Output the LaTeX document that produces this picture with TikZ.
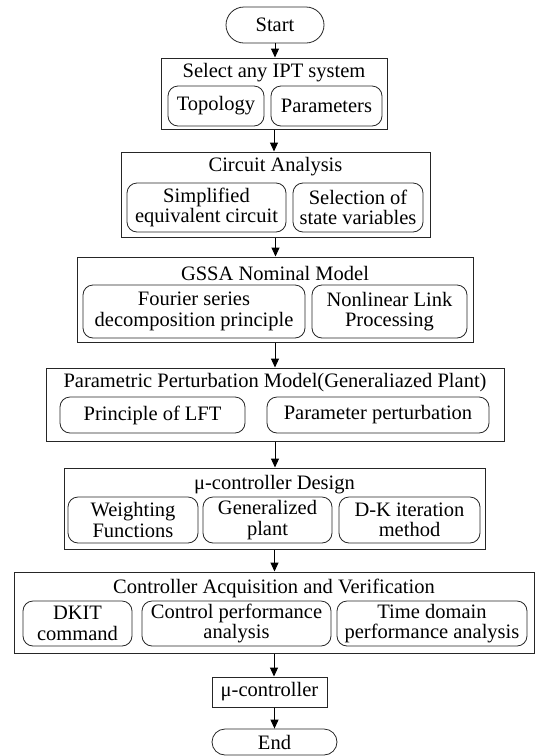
\documentclass[tikz,border=0pt]{standalone}
\usepackage{fontspec}
\setmainfont{Liberation Serif}
\usetikzlibrary{arrows.meta}

\begin{document}
\begin{tikzpicture}[x=1pt, y=-1pt,
    font=\fontsize{20.5}{20.5}\selectfont,
    outer/.style={draw=black!85, line width=1pt, inner sep=0pt},
    inner/.style={draw=black!85, rounded corners=10pt, line width=0.8pt, align=center, inner sep=0pt},
    pill/.style={draw=black!85, rounded corners=18pt, line width=0.8pt, inner sep=0pt},
    arr/.style={-{Triangle[length=9pt, width=8pt]}, line width=1pt}]
  \useasboundingbox (0,0) rectangle (536,756);

  % Start
  \node[pill, minimum width=98, minimum height=36] (start) at (275,25) {Start};

  % Select any IPT system
  \node[outer, minimum width=226, minimum height=71] (ipt) at (274,93.5) {};
  \node (ipt-t) at (274,73) {Select any IPT system};
  \node[inner, minimum width=96, minimum height=40] (topo) at (216,106) {Topology};
  \node[inner, minimum width=111, minimum height=40] (param) at (326.5,106) {Parameters};

  % Circuit Analysis
  \node[outer, minimum width=309, minimum height=85] (circ) at (275.5,194.5) {};
  \node (circ-t) at (275.5,167) {Circuit Analysis};
  \node[inner, minimum width=159, minimum height=49] (simp) at (206.5,207.5) {Simplified\\equivalent circuit};
  \node[inner, minimum width=130, minimum height=49] (sel) at (358,207.5) {Selection of\\state variables};

  % GSSA Nominal Model
  \node[outer, minimum width=396, minimum height=85] (gssa) at (275,299.5) {};
  \node (gssa-t) at (275,273) {GSSA Nominal Model};
  \node[inner, minimum width=222, minimum height=53] (four) at (194,311.5) {Fourier series\\decomposition principle};
  \node[inner, minimum width=155, minimum height=53] (nonl) at (389.5,311.5) {Nonlinear Link\\Processing};

  % Parametric Perturbation Model
  \node[outer, minimum width=458, minimum height=73] (ppm) at (275,404.5) {};
  \node (ppm-t) at (275,383) {Parametric Perturbation Model(Generaliazed Plant)};
  \node[inner, minimum width=185, minimum height=36] (lft) at (152.5,415) {Principle of LFT};
  \node[inner, minimum width=222, minimum height=36] (pert) at (378,415) {Parameter perturbation};

  % mu-controller Design
  \node[outer, minimum width=421, minimum height=81] (mud) at (274.5,508.5) {};
  \node (mud-t) at (274.5,485) {μ-controller Design};
  \node[inner, minimum width=130, minimum height=46] (wf) at (133,520) {Weighting\\Functions};
  \node[inner, minimum width=129, minimum height=46] (gp) at (267.5,520) {Generalized\\plant};
  \node[inner, minimum width=141, minimum height=46] (dk) at (409.5,520) {D-K iteration\\method};

  % Controller Acquisition and Verification
  \node[outer, minimum width=520, minimum height=81] (cav) at (274,612.5) {};
  \node (cav-t) at (274,588) {Controller Acquisition and Verification};
  \node[inner, minimum width=109, minimum height=45] (dkit) at (77.5,623.5) {DKIT\\command};
  \node[inner, minimum width=189, minimum height=45] (cpa) at (236.5,623.5) {Control performance\\analysis};
  \node[inner, minimum width=190, minimum height=45] (tda) at (432,623.5) {Time domain\\performance analysis};

  % mu-controller and End
  \node[outer, minimum width=115, minimum height=30] (muc) at (269.5,692) {μ-controller};
  \node[pill, rounded corners=13pt, minimum width=125, minimum height=26] (end) at (274.5,742) {End};

  % Arrows
  \foreach \a/\b in {start/ipt, ipt/circ, circ/gssa, gssa/ppm, ppm/mud, mud/cav, cav/muc}
    \draw[arr] (\a.south) -- (\a.south |- \b.north);
  \draw[arr] (end.north |- muc.south) -- (end.north);
\end{tikzpicture}
\end{document}
